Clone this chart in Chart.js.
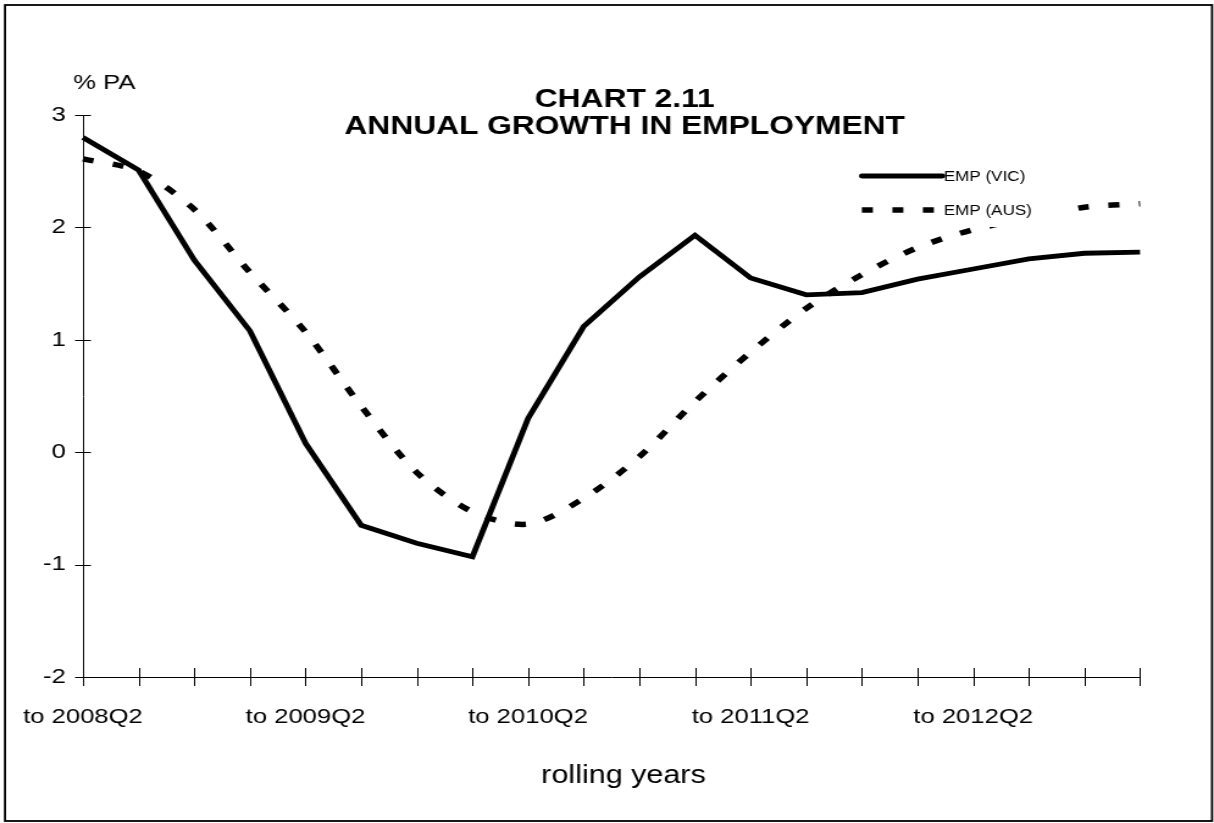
<!DOCTYPE html>
<html>
<head>
<meta charset="utf-8">
<script src="https://cdn.jsdelivr.net/npm/chart.js@4.4.1/dist/chart.umd.min.js"></script>
<style>
html,body{margin:0;padding:0;background:#fff;overflow:hidden;}
/* the original picture is stretched sideways, so the canvas is too */
#wrap{position:absolute;left:0;top:0;width:995px;height:823px;transform:scaleX(1.2201);transform-origin:0 0;}
</style>
</head>
<body>
<div id="wrap"><canvas id="c"></canvas></div>
<script>
const quarters = ['2008Q2','2008Q3','2008Q4','2009Q1','2009Q2','2009Q3','2009Q4','2010Q1','2010Q2','2010Q3',
                  '2010Q4','2011Q1','2011Q2','2011Q3','2011Q4','2012Q1','2012Q2','2012Q3','2012Q4','2013Q1'];
const empVic = [2.80, 2.51, 1.71, 1.08, 0.08, -0.65, -0.81, -0.93, 0.30, 1.12,
                1.56, 1.93, 1.55, 1.40, 1.42, 1.54, 1.63, 1.72, 1.77, 1.78];
const empAus = [2.61, 2.50, 2.16, 1.60, 1.07, 0.41, -0.18, -0.53, -0.64, -0.41,
                -0.04, 0.45, 0.89, 1.28, 1.58, 1.82, 1.98, 2.08, 2.18, 2.21];
const seriesNames = ['EMP (VIC)', 'EMP (AUS)'];
const titleLines = ['CHART 2.11', 'ANNUAL GROWTH IN EMPLOYMENT'];
const yUnit = '% PA';
const xTitle = 'rolling years';

const FONT = '"Liberation Sans", Arial, sans-serif';

// frame, titles, crossing tick marks and the in-plot legend
const decor = {
  id: 'decor',
  beforeDraw(chart){
    const c = chart.ctx;
    c.save();
    c.fillStyle = '#fff';
    c.fillRect(0, 0, chart.width, chart.height);
    c.strokeStyle = '#000';
    c.lineWidth = 1.8;
    c.strokeRect(4.1, 5, 989.3, 816);
    c.restore();
  },
  beforeDatasetsDraw(chart){
    const c = chart.ctx, xs = chart.scales.x, ys = chart.scales.y;
    c.save();
    c.strokeStyle = '#000';
    c.lineWidth = 1;
    c.beginPath();
    xs.ticks.forEach((t, i) => {
      const px = Math.round(xs.getPixelForTick(i)) + 0.5;
      c.moveTo(px, ys.bottom - 9); c.lineTo(px, ys.bottom + 9);
    });
    ys.ticks.forEach((t, i) => {
      const py = Math.round(ys.getPixelForTick(i)) + 0.5;
      c.moveTo(xs.left - 6.5, py); c.lineTo(xs.left + 6.5, py);
    });
    c.stroke();
    c.restore();
  },
  afterDatasetsDraw(chart){
    const c = chart.ctx, a = chart.chartArea;
    c.save();
    // legend box
    const lx = a.right - 228, ly = 160;
    c.fillStyle = '#fff';
    c.fillRect(lx - 6, ly, 170, 67);
    chart.data.datasets.forEach((ds, i) => {
      const y = ly + 16 + i * 34;
      c.strokeStyle = ds.borderColor;
      c.lineWidth = ds.borderWidth;
      c.lineCap = i === 0 ? 'round' : 'butt';
      c.setLineDash(ds.borderDash || []);
      c.beginPath(); c.moveTo(lx, y); c.lineTo(lx + 66, y); c.stroke();
      c.setLineDash([]);
      c.fillStyle = '#000';
      c.font = '14px ' + FONT;
      c.textBaseline = 'middle';
      c.textAlign = 'left';
      c.fillText(seriesNames[i], lx + 67, y + 1);
    });
    // titles
    c.fillStyle = '#000';
    c.textAlign = 'center';
    c.textBaseline = 'middle';
    c.font = 'bold 26px ' + FONT;
    c.fillText(titleLines[0], 512, 100);
    c.fillText(titleLines[1], 512, 127);
    c.font = '25px ' + FONT;
    c.fillText(xTitle, 511, 776);
    c.textAlign = 'left';
    c.font = '21px ' + FONT;
    c.fillText(yUnit, 60, 83);
    c.restore();
  }
};

new Chart(document.getElementById('c'), {
  type: 'line',
  data: {
    labels: quarters,
    datasets: [
      { label: seriesNames[0], data: empVic, borderColor: '#000', borderWidth: 4.8,
        tension: 0, pointRadius: 0, fill: false },
      { label: seriesNames[1], data: empAus, borderColor: '#000', borderWidth: 5.5,
        borderDash: [9, 16], tension: 0.3, pointRadius: 0, fill: false }
    ]
  },
  options: {
    responsive: true,
    maintainAspectRatio: false,
    animation: false,
    layout: { padding: { left: 0, right: 60.6, top: 115, bottom: 0 } },
    plugins: { legend: { display: false }, tooltip: { enabled: false }, title: { display: false } },
    scales: {
      x: {
        type: 'category',
        offset: false,
        grid: { display: false, drawTicks: false },
        border: { display: true, color: '#000', width: 1 },
        ticks: {
          autoSkip: false, maxRotation: 0, minRotation: 0, padding: 17,
          color: '#000', font: { family: FONT, size: 21, lineHeight: 2.2 },
          callback: (v, i) => i % 4 === 0 ? 'to ' + quarters[i] : ''
        },
        afterFit: s => { s.height = 146; }
      },
      y: {
        min: -2, max: 3,
        grid: { display: false, drawTicks: false },
        border: { display: true, color: '#000', width: 1 },
        ticks: { stepSize: 1, padding: 14, color: '#000', font: { family: FONT, size: 21 } },
        afterFit: s => { s.width = 68; }
      }
    }
  },
  plugins: [decor]
});
</script>
</body>
</html>
